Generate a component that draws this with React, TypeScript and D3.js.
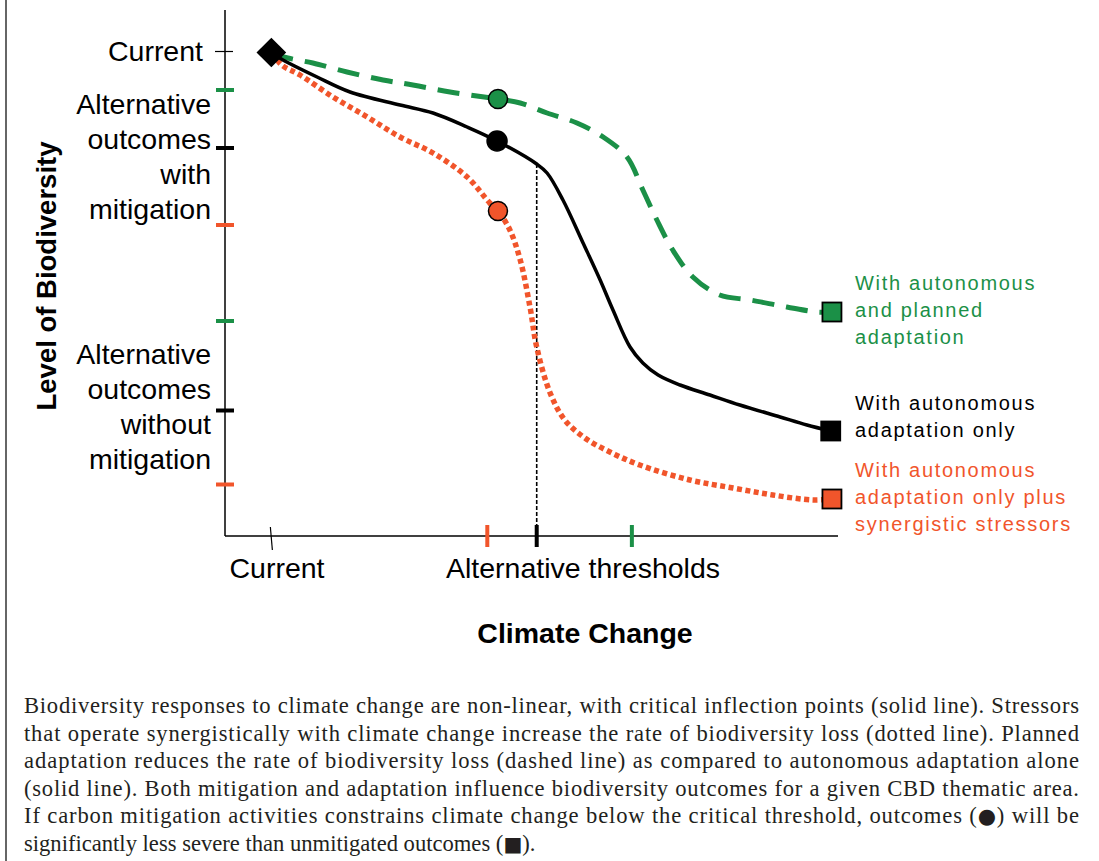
import * as d3 from "d3";
import React from "react";

// climate change (0-100) vs level of biodiversity (0-100)
const current: [number, number] = [7.6, 96.7];

const solidLine: [number, number][] = [
  [7.7, 96.6], [9.5, 95.2], [15.1, 91.8], [20.5, 88.8], [28.7, 86.2], [34.1, 84.6],
  [39.7, 81.8], [44.6, 79], [51.1, 74.4], [52.8, 72.6], [55.4, 67.2], [58.7, 58.6],
  [61.5, 51.2], [63.6, 45.2], [66.4, 37.8], [68.5, 34.6], [71, 32.2], [74.6, 30.2],
  [79.5, 28.2], [84.4, 26.2], [91, 23.8], [95.4, 22.2], [99.3, 21],
];

const dashedLine: [number, number][] = [
  [7.7, 96.6], [10.3, 95.6], [14.4, 94.6], [20, 92.8], [25.9, 91.2], [30.8, 90.2],
  [36.9, 88.8], [44.75, 87.4], [48.4, 86.6], [52.8, 84.6], [57.7, 82.6], [62, 79.8],
  [65.9, 75.8], [68.5, 69.2], [70.8, 63.2], [73.4, 57.2], [76.7, 51.8], [81.1, 48.2],
  [86.1, 47.2], [92.1, 45.8], [97, 44.8], [99.5, 44.8],
];

const dottedLine: [number, number][] = [
  [7.7, 96.6], [9.3, 94.2], [12.3, 92.2], [17.7, 87.8], [23.3, 83.8], [28.7, 79.8],
  [34.1, 76.6], [39.7, 71.8], [43.4, 66.6], [44.75, 65], [46.7, 61.2], [48.4, 55.2],
  [50, 45.8], [51.1, 37.8], [53.3, 28.6], [55.7, 23.2], [59, 19.6], [63.1, 16.8],
  [68, 14.2], [76.2, 11.2], [83.3, 9.6], [89.8, 8.2], [96.4, 7.2], [99.5, 7.4],
];

const mitigatedPoints = [
  { x: 44.75, y: 87.4, key: "planned" },
  { x: 44.6, y: 79, key: "autonomous" },
  { x: 44.75, y: 65, key: "synergistic" },
];
const unmitigatedPoints = [
  { x: 99.5, y: 44.8, key: "planned" },
  { x: 99.3, y: 21, key: "autonomous" },
  { x: 99.5, y: 7.4, key: "synergistic" },
];

const yTicksWith = [
  { y: 89.2, key: "planned" },
  { y: 77.6, key: "autonomous" },
  { y: 62.2, key: "synergistic" },
];
const yTicksWithout = [
  { y: 43, key: "planned" },
  { y: 25.1, key: "autonomous" },
  { y: 10.3, key: "synergistic" },
];
const xThresholds = [
  { x: 43, key: "synergistic" },
  { x: 51.1, key: "autonomous" },
  { x: 66.7, key: "planned" },
];
const criticalThreshold = { x: 51.1, top: 74.4 };

const legend = [
  { key: "planned", lines: ["With autonomous", "and planned", "adaptation"], y: 283 },
  { key: "autonomous", lines: ["With autonomous", "adaptation only"], y: 403 },
  { key: "synergistic", lines: ["With autonomous", "adaptation only plus", "synergistic stressors"], y: 470 },
];

const withLabel = ["Alternative", "outcomes", "with", "mitigation"];
const withoutLabel = ["Alternative", "outcomes", "without", "mitigation"];

const caption = [
  "Biodiversity responses to climate change are non-linear, with critical inflection points (solid line). Stressors",
  "that operate synergistically with climate change increase the rate of biodiversity loss (dotted line).  Planned",
  "adaptation reduces the rate of biodiversity loss (dashed line) as compared to autonomous adaptation alone",
  "(solid line).  Both mitigation and adaptation influence biodiversity outcomes for a given CBD thematic area.",
  "If carbon mitigation activities constrains climate change below the critical threshold, outcomes (\u25CF) will be",
  "significantly less severe than unmitigated outcomes (\u25A0).",
];

const colors: Record<string, string> = {
  planned: "#1b9047",
  autonomous: "#000000",
  synergistic: "#f1552b",
};

const sans = "Arial, 'Liberation Sans', Helvetica, sans-serif";

const captionParts = (s: string) =>
  s.split(/([\u25CF\u25A0])/).map((part, j) =>
    part === "\u25CF" || part === "\u25A0" ? (
      <tspan key={j} fontFamily="'DejaVu Sans', sans-serif" fontSize={part === "\u25CF" ? 21 : 20}>
        {part}
      </tspan>
    ) : (
      <tspan key={j}>{part}</tspan>
    )
  );

const App: React.FC = () => {
  const width = 1099;
  const height = 861;
  const left = 225;
  const right = 838;
  const bottom = 536;

  const x = d3.scaleLinear().domain([0, 100]).range([225, 835]);
  const y = d3.scaleLinear().domain([0, 100]).range([536, 36]);

  const line = d3
    .line<[number, number]>()
    .x((d) => x(d[0]))
    .y((d) => y(d[1]))
    .curve(d3.curveCatmullRom.alpha(0.5));

  const cx = x(current[0]);
  const cy = y(current[1]);

  return (
    <svg
      width={width}
      height={height}
      style={{ position: "absolute", left: 0, top: 0, background: "#fff" }}
    >
      <line x1={6} x2={6} y1={0} y2={height} stroke="#333" strokeWidth={1.5} />

      {/* axes */}
      <line x1={left} x2={left} y1={10} y2={bottom} stroke="#000" strokeWidth={1.5} />
      <line x1={left} x2={right} y1={bottom} y2={bottom} stroke="#000" strokeWidth={1.5} />

      {/* y ticks */}
      <line x1={215} x2={233} y1={y(current[1]) - 1} y2={y(current[1]) - 1} stroke="#000" strokeWidth={1.2} />
      {[...yTicksWith, ...yTicksWithout].map((t, i) => (
        <line key={i} x1={216} x2={234} y1={y(t.y)} y2={y(t.y)} stroke={colors[t.key]} strokeWidth={4} />
      ))}

      {/* x ticks */}
      <line x1={x(current[0]) - 1} x2={x(current[0]) + 1} y1={527} y2={550} stroke="#000" strokeWidth={1.2} />
      {xThresholds.map((t, i) => (
        <line key={i} x1={x(t.x)} x2={x(t.x)} y1={525} y2={547} stroke={colors[t.key]} strokeWidth={4} />
      ))}

      {/* critical threshold */}
      <line
        x1={x(criticalThreshold.x)}
        x2={x(criticalThreshold.x)}
        y1={y(criticalThreshold.top)}
        y2={bottom}
        stroke="#000"
        strokeWidth={1.6}
        strokeDasharray="4,2"
      />

      {/* curves */}
      <path d={line(dottedLine) ?? ""} fill="none" stroke={colors.synergistic} strokeWidth={5.5} strokeDasharray="5,3.5" />
      <path d={line(dashedLine) ?? ""} fill="none" stroke={colors.planned} strokeWidth={5} strokeDasharray="22,12" />
      <path d={line(solidLine) ?? ""} fill="none" stroke="#000" strokeWidth={3.5} />

      {mitigatedPoints.map((p) => (
        <circle
          key={p.key}
          cx={x(p.x)}
          cy={y(p.y)}
          r={p.key === "autonomous" ? 10 : 9.5}
          fill={colors[p.key]}
          stroke="#000"
          strokeWidth={1.5}
        />
      ))}
      {unmitigatedPoints.map((p) => (
        <rect
          key={p.key}
          x={x(p.x) - 9.5}
          y={y(p.y) - 9.5}
          width={19}
          height={19}
          fill={colors[p.key]}
          stroke="#000"
          strokeWidth={1.8}
        />
      ))}
      <rect
        x={cx - 10.5}
        y={cy - 10.5}
        width={21}
        height={21}
        fill="#000"
        transform={`rotate(45 ${cx} ${cy})`}
      />

      {/* left labels */}
      <g fontFamily={sans} fontSize={28.5} fill="#000" textAnchor="end">
        <text x={203} y={y(current[1]) + 8}>Current</text>
        {withLabel.map((s, i) => (
          <text key={"w" + i} x={211} y={114 + i * 35}>{s}</text>
        ))}
        {withoutLabel.map((s, i) => (
          <text key={"o" + i} x={211} y={364 + i * 35}>{s}</text>
        ))}
      </g>
      <text
        transform="translate(56,276) rotate(-90)"
        textAnchor="middle"
        fontFamily={sans}
        fontSize={27.5}
        fontWeight="bold"
      >
        Level of Biodiversity
      </text>

      {/* x labels */}
      <g fontFamily={sans} fontSize={28.5} fill="#000" textAnchor="middle">
        <text x={277} y={578}>Current</text>
        <text x={583} y={578}>Alternative thresholds</text>
        <text x={585} y={643} fontWeight="bold" fontSize={28.5}>Climate Change</text>
      </g>

      {/* legend */}
      <g fontFamily={sans} fontSize={20} letterSpacing={1.7}>
        {legend.map((l) =>
          l.lines.map((s, i) => (
            <text key={l.key + i} x={855} y={l.y + 7 + i * 27} fill={colors[l.key]}>
              {s}
            </text>
          ))
        )}
      </g>

      {/* caption */}
      <g
        fontFamily="'Liberation Serif', 'Times New Roman', serif"
        fontSize={22.6}
        fill="#231f20"
        style={{ whiteSpace: "pre" }}
      >
        {caption.map((s, i) =>
          i < caption.length - 1 ? (
            <text key={i} x={24} y={713 + i * 27.5} textLength={1055} lengthAdjust="spacing">
              {captionParts(s)}
            </text>
          ) : (
            <text key={i} x={24} y={713 + i * 27.5}>
              {captionParts(s)}
            </text>
          )
        )}
      </g>
    </svg>
  );
};

export default App;
